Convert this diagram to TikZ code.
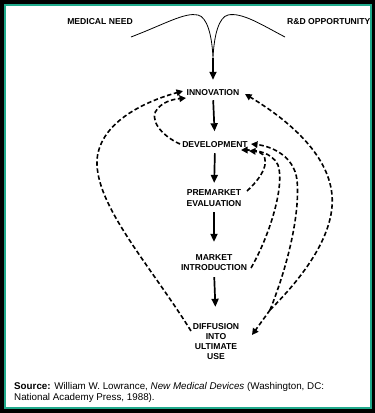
\documentclass[tikz,border=0pt]{standalone}
\usepackage{fontspec}
\setmainfont{Liberation Sans}
\usetikzlibrary{arrows.meta}
\definecolor{frameteal}{RGB}{32,170,140}
\tikzset{
  lbl/.style={font=\bfseries\fontsize{8.6}{10.3}\selectfont, inner sep=0pt, align=center},
  srctext/.style={font=\fontsize{9.8}{11}\selectfont, inner sep=0pt, anchor=base west},
  solidarrow/.style={line width=1.7pt, -{Triangle[length=8pt,width=7pt]}},
  dasharrow/.style={line width=1.6pt, dash pattern=on 4.5pt off 2.6pt, -{Triangle[length=6.5pt,width=6.5pt]}},
  funnel/.style={line width=0.8pt},
}
\begin{document}
\begin{tikzpicture}[x=1pt,y=-1pt]
\useasboundingbox (0,0) rectangle (375,413);
\fill[black] (0,0) rectangle (375,413);
\fill[frameteal] (4,4) rectangle (372,409);
\fill[white] (6,6) rectangle (370,407);

% labels
\node[lbl] (need) at (100,22) {MEDICAL NEED};
\node[lbl, anchor=west] (rd) at (287,22) {R\&D OPPORTUNITY};
\node[lbl] (innovation) at (213,93) {INNOVATION};
\node[lbl] (development) at (215,145) {DEVELOPMENT};
\node[lbl] (premarket) at (214,198) {PREMARKET\\EVALUATION};
\node[lbl] (market) at (214,262.5) {MARKET\\INTRODUCTION};
\node[lbl] (diffusion) at (216,341.5) {DIFFUSION\\INTO\\ULTIMATE\\USE};

% funnel
\coordinate (fb) at (213,58);
\draw[funnel] (131,37) .. controls (165,24) and (185,12) .. (198,15)
  .. controls (207,17) and (212,35) .. (fb)
  .. controls (214,35) and (219,17) .. (228,15)
  .. controls (242,12) and (262,25) .. (285,37);

% solid arrows
\draw[solidarrow, shorten >=10pt] (fb) -- (innovation.north);
\draw[solidarrow, shorten <=4pt, shorten >=10.5pt] (innovation.south) -- (development.north);
\draw[solidarrow, shorten <=5pt, shorten >=6.8pt] (development.south) -- (premarket.north);
\draw[solidarrow, shorten <=5.8pt, shorten >=12.3pt] (premarket.south) -- (market.north);
\draw[solidarrow, shorten <=6.3pt, shorten >=16pt] (market.south) -- (diffusion.north);

% dashed feedback arrows
\coordinate (m) at (270,310);
\draw[dasharrow] (191,331) .. controls (150,265) and (95,205) .. (97,160)
  .. controls (100,120) and (150,100) .. (183,91);
\draw[dasharrow] (180,144) .. controls (160,135) and (148,118) .. (158,108)
  .. controls (166,100) and (176,99) .. (186,98);
\draw[dasharrow] (247,191) .. controls (272,168) and (268,152) .. (249,151);
\draw[dasharrow] (251,268) .. controls (270,235) and (285,185) .. (278,165)
  .. controls (272,152) and (255,150) .. (241,150);
\draw[dasharrow] (m) .. controls (290,260) and (300,210) .. (297,180)
  .. controls (294,155) and (270,146) .. (251,144);
\draw[dasharrow] (m) .. controls (310,270) and (335,230) .. (332,195)
  .. controls (328,150) and (280,115) .. (245,94);
\draw[dasharrow] (m) -- (252,335);

% source
\node[srctext] (src1) at (14,389) {\textbf{Source:} William W. Lowrance, \textit{New Medical Devices} (Washington, DC:};
\node[srctext] (src2) at (14,400) {National Academy Press, 1988).};
\end{tikzpicture}
\end{document}
